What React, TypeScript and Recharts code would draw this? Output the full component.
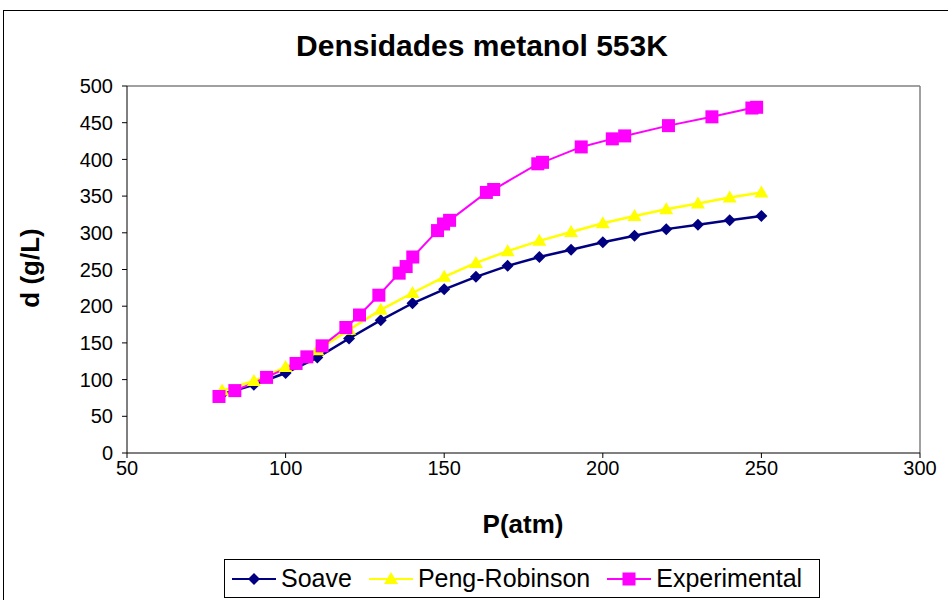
import React from 'react';
import { LineChart, Line, XAxis, YAxis, ReferenceLine } from 'recharts';

// Pressures (atm) used for the two equation-of-state curves
const modelPressure = [80, 90, 100, 110, 120, 130, 140, 150, 160, 170, 180, 190, 200, 210, 220, 230, 240, 250];
const soaveDensity = [80, 93, 109, 130, 156, 181, 204, 223, 240, 255, 267, 277, 287, 296, 305, 311, 317, 323];
const pengRobinsonDensity = [85, 98, 117, 140, 168, 195, 218, 240, 259, 275, 289, 301, 313, 323, 332, 340, 348, 355];

// Measured points
const expPressure = [79, 84, 94, 103.3, 106.7, 111.5, 119, 123.3, 129.4, 135.8, 138, 140.1, 147.9, 149.8, 151.7, 163.3, 165.6, 179.5, 181, 193.2, 203, 206.9, 220.7, 234.4, 247, 248.5];
const expDensity = [77, 85, 103, 122, 131, 146, 171, 188, 215, 245, 254, 267, 303, 312, 317, 355, 359, 394, 396, 417, 428, 432, 446, 458, 470, 471];

const xTicks = [50, 100, 150, 200, 250, 300];
const yTicks = [0, 50, 100, 150, 200, 250, 300, 350, 400, 450, 500];

const soaveData = modelPressure.map((x, i) => ({ x, d: soaveDensity[i] }));
const prData = modelPressure.map((x, i) => ({ x, d: pengRobinsonDensity[i] }));
const expData = expPressure.map((x, i) => ({ x, d: expDensity[i] }));

const FONT = '"Liberation Sans", Arial, sans-serif';
const NAVY = '#000080';
const YELLOW = '#FFFF00';
const MAGENTA = '#FF00FF';

const Diamond = ({ cx, cy, fill }: any) => (
  <path d={`M${cx},${cy - 6}L${cx + 6},${cy}L${cx},${cy + 6}L${cx - 6},${cy}Z`} fill={fill} />
);
const Triangle = ({ cx, cy, fill }: any) => (
  <path d={`M${cx},${cy - 7}L${cx + 7},${cy + 5}L${cx - 7},${cy + 5}Z`} fill={fill} />
);
const Square = ({ cx, cy, fill }: any) => (
  <rect x={cx - 6.5} y={cy - 6.5} width={13} height={13} fill={fill} />
);

const series = [
  { name: 'Soave', color: NAVY, Marker: Diamond },
  { name: 'Peng-Robinson', color: YELLOW, Marker: Triangle },
  { name: 'Experimental', color: MAGENTA, Marker: Square },
];

const LegendBox = () => (
  <div
    style={{
      position: 'absolute',
      left: 224,
      top: 559,
      width: 596,
      height: 39,
      border: '1px solid #000',
      background: '#fff',
      display: 'flex',
      alignItems: 'center',
      boxSizing: 'border-box',
      paddingLeft: 7,
      fontFamily: FONT,
      fontSize: 25,
      color: '#000',
      whiteSpace: 'nowrap',
    }}
  >
    {series.map(({ name, color, Marker }) => (
      <div key={name} style={{ display: 'flex', alignItems: 'center', marginRight: 17, flexShrink: 0 }}>
        <svg width={44} height={20}>
          <line x1={0} y1={10} x2={44} y2={10} stroke={color} strokeWidth={2} />
          <Marker cx={22} cy={10} fill={color} />
        </svg>
        <span style={{ marginLeft: 5 }}>{name}</span>
      </div>
    ))}
  </div>
);

const App = () => {
  const dot = (Marker: any, color: string) => (p: any) =>
    <Marker key={`m-${p.index}`} cx={p.cx} cy={p.cy} fill={color} />;

  return (
    <div style={{ position: 'absolute', left: 0, top: 0, width: 948, height: 600, overflow: 'hidden', background: '#fff', fontFamily: FONT }}>
      <div style={{ position: 'absolute', left: 3, top: 10, width: 1000, height: 700, border: '1px solid #000' }} />
      <div style={{ position: 'absolute', left: 0, width: 964, top: 29, textAlign: 'center', fontSize: 30, fontWeight: 'bold' }}>
        Densidades metanol 553K
      </div>
      <div style={{ position: 'absolute', left: 523, top: 509, transform: 'translateX(-50%)', fontSize: 26, fontWeight: 'bold' }}>
        P(atm)
      </div>
      <div style={{ position: 'absolute', left: 30, top: 268, transform: 'translate(-50%, -50%) rotate(-90deg)', fontSize: 26, fontWeight: 'bold', whiteSpace: 'nowrap' }}>
        d (g/L)
      </div>
      <div style={{ position: 'absolute', left: 0, top: 0 }}>
        <LineChart width={948} height={600} margin={{ top: 86, right: 28, bottom: 117, left: 0 }}>
          <XAxis
            type="number"
            dataKey="x"
            domain={[50, 300]}
            ticks={xTicks}
            allowDataOverflow
            height={30}
            stroke="#000"
            tickSize={5}
            tickMargin={3}
            tick={{ fill: '#000', fontSize: 20, fontFamily: FONT }}
          />
          <YAxis
            type="number"
            domain={[0, 500]}
            ticks={yTicks}
            width={127}
            stroke="#000"
            tickSize={5}
            tickMargin={9}
            tick={{ fill: '#000', fontSize: 20, fontFamily: FONT }}
          />
          <ReferenceLine y={500} stroke="#808080" strokeWidth={1.5} />
          <ReferenceLine x={300} stroke="#808080" strokeWidth={1.5} />
          <Line data={soaveData} dataKey="d" name="Soave" stroke={NAVY} strokeWidth={2.5} dot={dot(Diamond, NAVY)} isAnimationActive={false} />
          <Line data={prData} dataKey="d" name="Peng-Robinson" stroke={YELLOW} strokeWidth={2.5} dot={dot(Triangle, YELLOW)} isAnimationActive={false} />
          <Line data={expData} dataKey="d" name="Experimental" stroke={MAGENTA} strokeWidth={2} dot={dot(Square, MAGENTA)} isAnimationActive={false} />
        </LineChart>
      </div>
      <LegendBox />
    </div>
  );
};

export default App;
